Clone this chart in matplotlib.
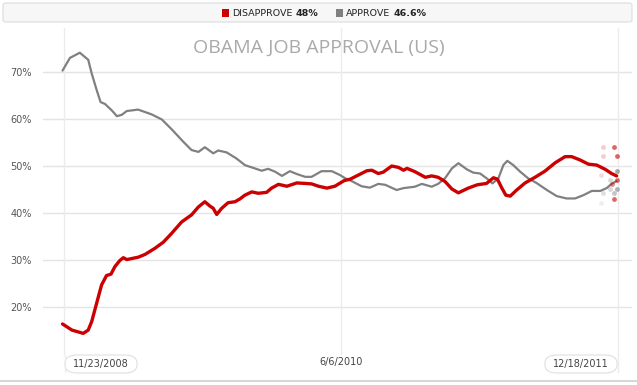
import numpy as np
import matplotlib
matplotlib.use("Agg")
import matplotlib.pyplot as plt
from matplotlib.patches import FancyBboxPatch, Rectangle

# days since 11/23/2008
approve_day = [-4, 11, 31, 48, 55, 65, 73, 82, 96, 106, 116, 126, 149, 176, 197, 217,
               240, 257, 271, 284, 301, 311, 328, 348, 365, 382, 399, 412, 426, 440,
               456, 470, 487, 500, 520, 541, 557, 568, 581, 601, 618, 635, 649, 672,
               686, 709, 723, 743, 756, 770, 784, 797, 814, 827, 841, 854, 866, 878,
               888, 896, 908, 922, 938, 955, 976, 996, 1016, 1033, 1050, 1067, 1084,
               1097, 1107, 1117]
approve = [70.3, 73.0, 74.1, 72.6, 69.7, 66.2, 63.6, 63.2, 61.8, 60.6, 60.9, 61.7, 62.0,
           61.0, 59.9, 57.8, 55.2, 53.4, 53.0, 54.0, 52.7, 53.3, 52.9, 51.6, 50.2, 49.6,
           49.0, 49.4, 48.8, 47.9, 48.9, 48.3, 47.7, 47.7, 48.9, 48.9, 48.1, 47.4, 46.8,
           45.7, 45.4, 46.2, 46.0, 44.9, 45.3, 45.6, 46.2, 45.6, 46.2, 47.4, 49.5, 50.6,
           49.3, 48.6, 48.4, 47.4, 46.3, 47.4, 50.2, 51.1, 50.2, 48.8, 47.4, 46.4, 44.9,
           43.6, 43.1, 43.1, 43.8, 44.7, 44.7, 45.3, 46.2, 46.8]

disapprove_day = [-4, 15, 38, 48, 55, 65, 75, 85, 94, 102, 112, 119, 126, 149, 163, 183,
                  200, 217, 237, 257, 271, 284, 294, 301, 308, 318, 331, 345, 355, 365,
                  379, 392, 409, 419, 433, 450, 470, 487, 500, 514, 531, 547, 566, 578,
                  595, 612, 622, 635, 645, 662, 676, 686, 693, 709, 730, 743, 756, 770,
                  784, 797, 817, 835, 854, 868, 876, 885, 893, 902, 915, 932, 952, 972,
                  993, 1013, 1026, 1043, 1060, 1077, 1094, 1107, 1117]
disapprove = [16.4, 15.1, 14.4, 15.1, 16.9, 20.8, 24.7, 26.7, 27.0, 28.6, 29.9, 30.5,
              30.1, 30.6, 31.2, 32.5, 33.8, 35.7, 38.1, 39.6, 41.3, 42.4, 41.5, 41.0,
              39.7, 41.0, 42.2, 42.4, 43.0, 43.8, 44.5, 44.2, 44.4, 45.3, 46.1, 45.7,
              46.4, 46.3, 46.2, 45.7, 45.3, 45.7, 46.9, 47.2, 48.1, 49.0, 49.1, 48.4,
              48.7, 50.0, 49.7, 49.1, 49.5, 48.8, 47.6, 47.9, 47.6, 46.7, 45.1, 44.3,
              45.3, 46.0, 46.3, 47.5, 47.2, 45.3, 43.8, 43.6, 44.9, 46.4, 47.6, 48.9,
              50.7, 52.0, 52.0, 51.3, 50.4, 50.2, 49.3, 48.4, 47.9]

# latest individual polls
poll_dis_day = [1089, 1112, 1089, 1117, 1085, 1117, 1107, 1111]
poll_dis = [54.1, 54.1, 52.1, 52.1, 48.1, 47.0, 46.1, 43.0]
poll_dis_alpha = [0.2, 0.6, 0.2, 0.6, 0.15, 0.6, 0.45, 0.6]
poll_app_day = [1117, 1104, 1117, 1104, 1089, 1111, 1085]
poll_app = [49.0, 47.0, 45.1, 45.1, 44.2, 44.2, 42.1]
poll_app_alpha = [0.7, 0.3, 0.6, 0.3, 0.25, 0.45, 0.12]

legend_names = ["DISAPPROVE", "APPROVE"]
legend_values = ["48%", "46.6%"]

yticks = [20, 30, 40, 50, 60, 70]
date_days = [0, 560, 1120]
date_labels = ["11/23/2008", "6/6/2010", "12/18/2011"]

RED = "#cc0000"
GRAY = "#808080"
W, H = 637, 385

def fx(px):
    return px / W

def fy(py):
    return 1 - py / H

fig = plt.figure(figsize=(6.37, 3.85), dpi=100)
fig.patch.set_facecolor("white")

# axes placed in pixel terms: left 43, right 632, top 28, bottom 355
ax = fig.add_axes([fx(43), fy(355), fx(632) - fx(43), fy(28) - fy(355)])
ax.set_xlim(-43.5, 1148.3)
ax.set_ylim(9.8, 79.36)
ax.set_facecolor("none")
for s in ax.spines.values():
    s.set_visible(False)
ax.set_xticks([])
ax.set_yticks(yticks)
ax.set_yticklabels([f"{v}%" for v in yticks], fontsize=7, color="#555555")
ax.tick_params(axis="y", length=0, pad=8)
for v in yticks:
    ax.axhline(v, color="#e4e4e4", lw=1, zorder=0)
for d in date_days:
    ax.axvline(d, color="#ececec", lw=1, zorder=0)

ax.plot(approve_day, approve, color=GRAY, lw=1.6, solid_joinstyle="round",
        solid_capstyle="round", zorder=3)
ax.plot(disapprove_day, disapprove, color=RED, lw=2.4, solid_joinstyle="round",
        solid_capstyle="round", zorder=4)

for d, v, a in zip(poll_dis_day, poll_dis, poll_dis_alpha):
    ax.scatter(d, v, s=12, color=RED, alpha=a, lw=0, zorder=5)
for d, v, a in zip(poll_app_day, poll_app, poll_app_alpha):
    ax.scatter(d, v, s=12, color=GRAY, alpha=a, lw=0, zorder=5)

# vertical lines continuing down to date labels
fig.add_artist(plt.Line2D([fx(64.5), fx(64.5)], [fy(355), fy(372)], color="#ececec", lw=1))
fig.add_artist(plt.Line2D([fx(618), fx(618)], [fy(355), fy(372)], color="#ececec", lw=1))

# date labels
for d, lab in zip(date_days, date_labels):
    xpix = 64.5 + d * 553.5 / 1120
    if lab == date_labels[0]:
        box = FancyBboxPatch((fx(65), fy(373)), fx(72), fy(355) - fy(373),
                             boxstyle="round,pad=0,rounding_size=0.02",
                             transform=fig.transFigure, fc="white", ec="#e0e0e0", lw=0.8)
        fig.add_artist(box)
        fig.text(fx(101), fy(364), lab, ha="center", va="center", fontsize=7, color="#444444")
    elif lab == date_labels[-1]:
        box = FancyBboxPatch((fx(545), fy(373)), fx(72), fy(355) - fy(373),
                             boxstyle="round,pad=0,rounding_size=0.02",
                             transform=fig.transFigure, fc="white", ec="#e0e0e0", lw=0.8)
        fig.add_artist(box)
        fig.text(fx(581), fy(364), lab, ha="center", va="center", fontsize=7, color="#444444")
    else:
        fig.text(fx(xpix), fy(362), lab, ha="center", va="center", fontsize=7, color="#444444")

# title
fig.text(fx(319), fy(48), "OBAMA JOB APPROVAL (US)", ha="center", va="center",
         fontsize=14, color="#aaaaaa", family="Open Sans")

# legend bar
bar = FancyBboxPatch((fx(3), fy(22)), fx(629), fy(3) - fy(22),
                     boxstyle="round,pad=0,rounding_size=0.005",
                     transform=fig.transFigure, fc="#f7f7f7", ec="#dcdcdc", lw=0.8)
fig.add_artist(bar)

# legend entries laid out left to right, measured so nothing overlaps
renderer = fig.canvas.get_renderer()
x = 222.0
for name, val, col in zip(legend_names, legend_values, [RED, GRAY]):
    fig.add_artist(Rectangle((fx(x), fy(16.5)), fx(7), fy(9.5) - fy(16.5),
                             transform=fig.transFigure, fc=col, ec="none"))
    x += 10
    t = fig.text(fx(x), fy(13), name, ha="left", va="center", fontsize=6.8,
                 color="#222222")
    x += t.get_window_extent(renderer).width + 3
    t = fig.text(fx(x), fy(13), val, ha="left", va="center", fontsize=6.8,
                 color="#222222", weight="bold")
    x += t.get_window_extent(renderer).width + 18

# bottom rule
fig.add_artist(plt.Line2D([0, 1], [fy(381), fy(381)], color="#d0d0d0", lw=1.2))

fig.savefig("out.png", dpi=100)
